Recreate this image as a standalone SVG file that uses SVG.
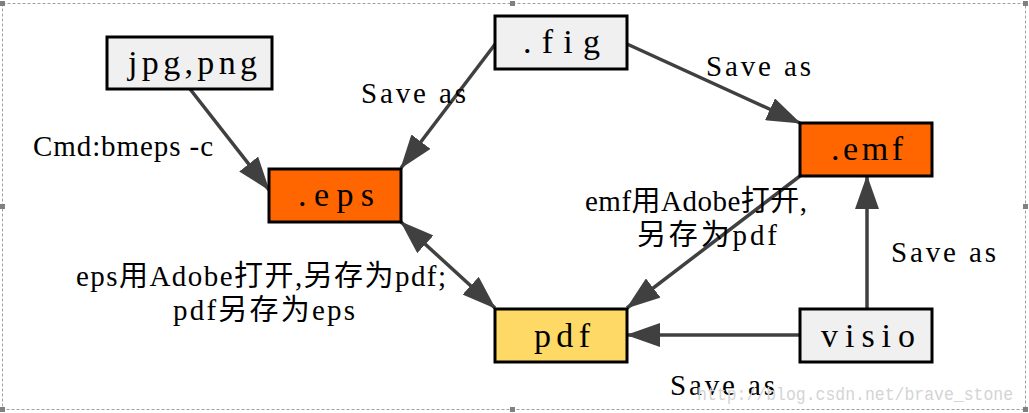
<svg xmlns="http://www.w3.org/2000/svg" width="1029" height="413" viewBox="0 0 1029 413">
<style>
  .box { stroke: #000; stroke-width: 3; }
  .grey { fill: #f0f0f0; }
  .orange { fill: #ff6600; }
  .yellow { fill: #ffd966; }
  .nlabel { font-family: "Liberation Serif", "Noto Sans CJK SC", serif; font-size: 34px; fill: #000; }
  .elabel { font-family: "Liberation Serif", "Noto Sans CJK SC", serif; font-size: 29px; fill: #000; }
  .edge { stroke: #404040; stroke-width: 3.5; fill: none; marker-end: url(#arrow); }
  .handle { fill: #808080; }
</style>
<defs>
  <marker id="arrow" markerUnits="userSpaceOnUse" markerWidth="34" markerHeight="24" refX="33" refY="12" orient="auto-start-reverse" viewBox="0 0 34 24">
    <path d="M0,0 L34,12 L0,24 z" fill="#404040"/>
  </marker>
</defs>
<rect x="0" y="0" width="1029" height="413" fill="#fff"/>
<g id="frame">
  <rect x="2.5" y="3.5" width="1023" height="406" fill="none" stroke="#a0a0a0" stroke-width="1" stroke-dasharray="3,2"/>
  <rect class="handle" x="0" y="1" width="5" height="5"/>
  <rect class="handle" x="510" y="1" width="5" height="5"/>
  <rect class="handle" x="1023" y="1" width="5" height="5"/>
  <rect class="handle" x="0" y="204" width="5" height="5"/>
  <rect class="handle" x="1023" y="204" width="5" height="5"/>
  <rect class="handle" x="0" y="407" width="5" height="5"/>
  <rect class="handle" x="510" y="407" width="5" height="5"/>
  <rect class="handle" x="1023" y="407" width="5" height="5"/>
</g>
<g id="connectors">
  <line class="edge" x1="190" y1="89" x2="269" y2="190"/>
  <line class="edge" x1="496" y1="43" x2="401" y2="168"/>
  <line class="edge" x1="627" y1="44" x2="800" y2="123"/>
  <line class="edge" x1="401" y1="222" x2="495" y2="308" marker-start="url(#arrow)"/>
  <line class="edge" x1="800" y1="176" x2="627" y2="308"/>
  <line class="edge" x1="800" y1="335" x2="627" y2="335"/>
  <line class="edge" x1="867" y1="309" x2="867" y2="176"/>
</g>
<g id="edge-labels">
  <text class="elabel" x="33" y="156" textLength="180" lengthAdjust="spacing">Cmd:bmeps -c</text>
  <text class="elabel" x="361" y="103" textLength="105" lengthAdjust="spacing">Save as</text>
  <text class="elabel" x="706" y="76" textLength="105" lengthAdjust="spacing">Save as</text>
  <text class="elabel" x="891" y="262" textLength="105" lengthAdjust="spacing">Save as</text>
  <text class="elabel" x="670" y="395" textLength="105" lengthAdjust="spacing">Save as</text>
  <text class="elabel" x="585" y="211" textLength="222" lengthAdjust="spacing">emf用Adobe打开,</text>
  <text class="elabel" x="637" y="245" textLength="140" lengthAdjust="spacing">另存为pdf</text>
  <text class="elabel" x="76" y="286" textLength="370" lengthAdjust="spacing">eps用Adobe打开,另存为pdf;</text>
  <text class="elabel" x="173" y="320" textLength="182" lengthAdjust="spacing">pdf另存为eps</text>
</g>
<g id="node-jpgpng">
  <rect class="box grey" x="107" y="37" width="165" height="52"/>
  <text class="nlabel" x="128" y="74" textLength="129" lengthAdjust="spacing">jpg,png</text>
</g>
<g id="node-eps">
  <rect class="box orange" x="269" y="169" width="132" height="53"/>
  <text class="nlabel" x="298" y="206" textLength="76" lengthAdjust="spacing">.eps</text>
</g>
<g id="node-fig">
  <rect class="box grey" x="495" y="16" width="132" height="53"/>
  <text class="nlabel" x="523" y="53" textLength="77" lengthAdjust="spacing">.fig</text>
</g>
<g id="node-emf">
  <rect class="box orange" x="800" y="123" width="132" height="53"/>
  <text class="nlabel" x="831" y="160" textLength="72" lengthAdjust="spacing">.emf</text>
</g>
<g id="node-pdf">
  <rect class="box yellow" x="495" y="309" width="132" height="53"/>
  <text class="nlabel" x="534" y="347" textLength="56" lengthAdjust="spacing">pdf</text>
</g>
<g id="node-visio">
  <rect class="box grey" x="800" y="309" width="132" height="53"/>
  <text class="nlabel" x="821" y="347" textLength="94" lengthAdjust="spacing">visio</text>
</g>
<text x="697" y="400" textLength="316" lengthAdjust="spacingAndGlyphs" font-family="Liberation Mono, monospace" font-size="19" fill="#d4d4d4">http://blog.csdn.net/brave_stone</text>
</svg>
